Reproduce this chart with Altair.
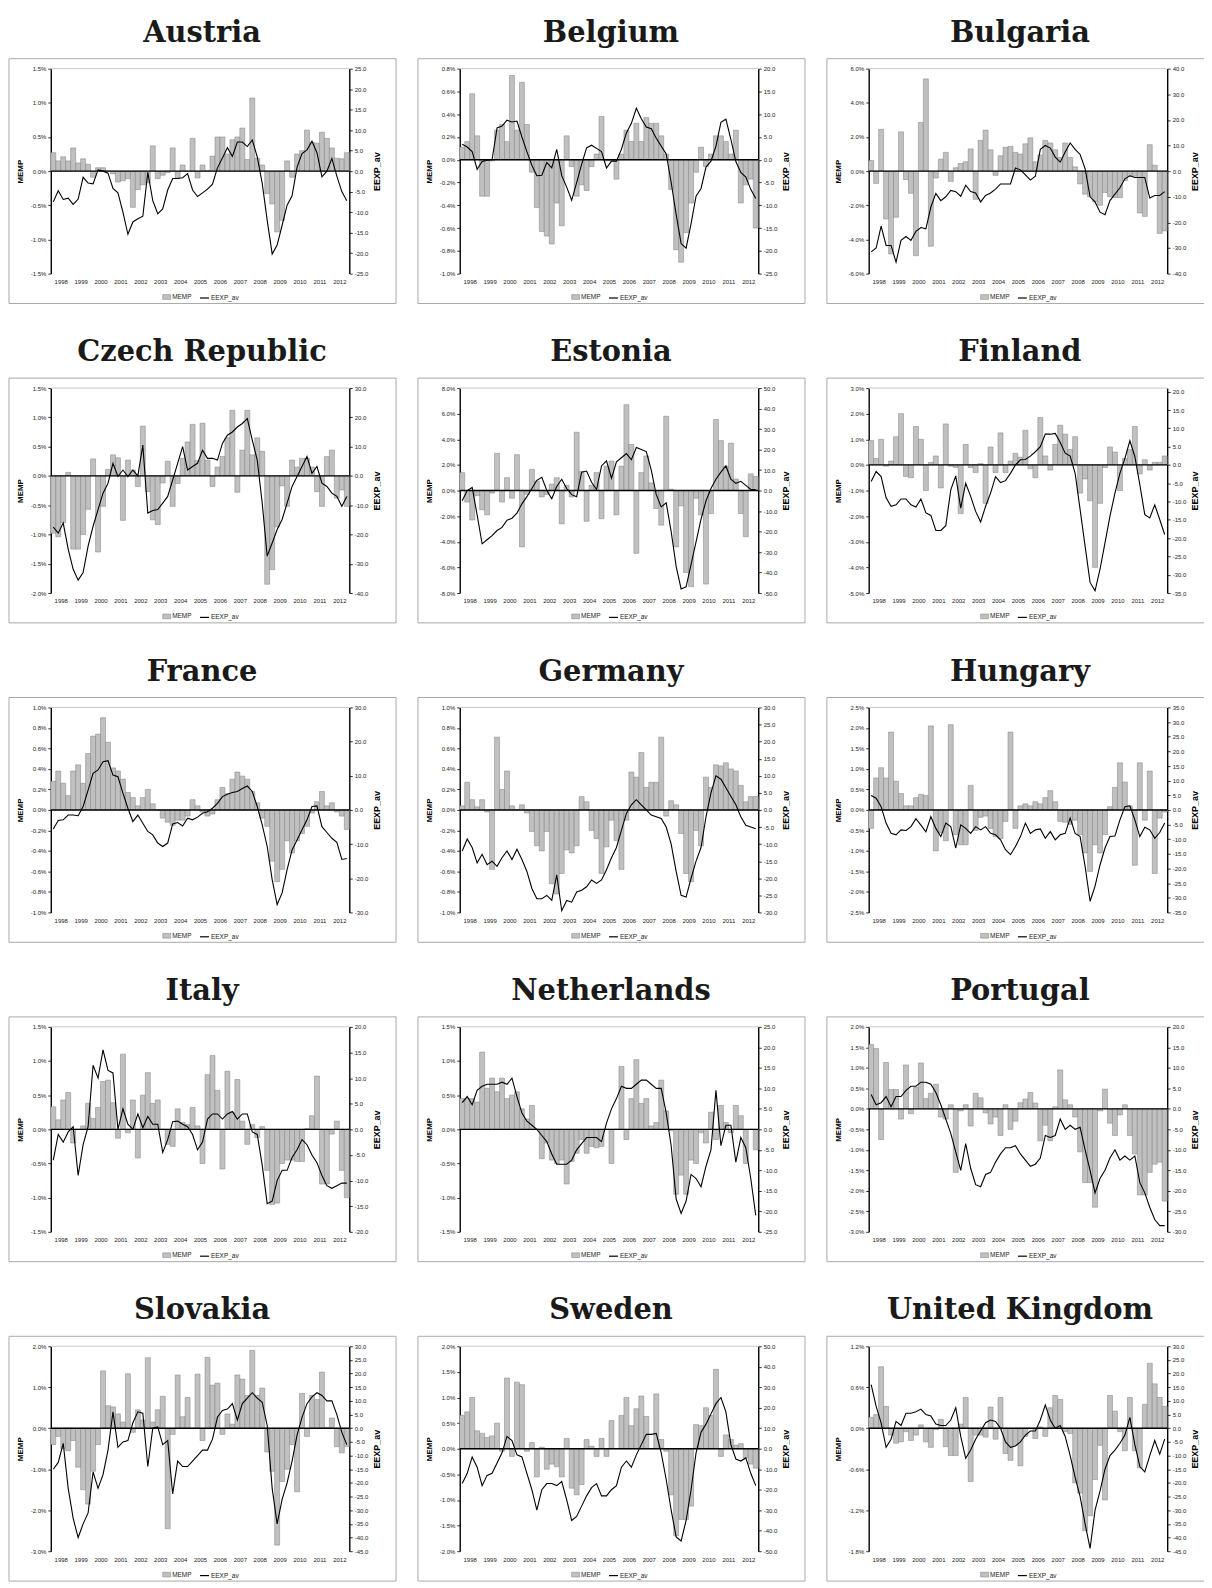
import altair as alt
import pandas as pd

YEARS = list(range(1998, 2013))
QUARTERS = [1, 2, 3, 4]
BAR_NAME = "MEMP"
LINE_NAME = "EEXP_av"

COUNTRIES = ["Austria", "Belgium", "Bulgaria", "Czech Republic", "Estonia", "Finland",
             "France", "Germany", "Hungary", "Italy", "Netherlands", "Portugal",
             "Slovakia", "Sweden", "United Kingdom"]

AUSTRIA_MEMP = [0.27,0.15,0.21,0.15, 0.34,0.12,0.18,0.10, -0.09,0.05,0.05,0.00, -0.04,-0.16,-0.14,-0.11,
                -0.53,-0.27,-0.20,-0.17, 0.37,-0.11,-0.06,-0.02, 0.34,-0.10,0.09,0.00, 0.48,-0.10,0.09,0.01,
                0.22,0.50,0.50,0.25, 0.46,0.50,0.63,0.17, 1.07,0.19,0.09,-0.33, -0.48,-0.89,-0.72,0.15,
                -0.09,0.25,0.30,0.60, 0.42,0.41,0.57,0.48, 0.34,0.19,0.18,0.27]
AUSTRIA_EEXP = [-7.5,-4.8,-6.9,-6.6, -8.1,-6.8,-1.5,-2.9, -3.1,0.3,0.0,-0.5, -4.2,-5.3,-10.0,-15.4,
                -12.4,-11.6,-11.0,-0.3, -7.2,-10.4,-9.2,-4.6, -1.8,-1.8,-1.6,-0.6, -4.6,-6.2,-5.3,-4.4,
                -3.2,0.8,3.2,5.7, 3.6,7.1,7.1,6.0, 7.6,3.5,-3.0,-12.0, -20.2,-18.0,-13.2,-8.3,
                -6.0,1.0,4.3,5.2, 7.3,4.5,-1.4,0.0, 3.1,-1.2,-5.0,-7.2]

BELGIUM_MEMP = [0.11,0.16,0.58,0.21, -0.32,-0.32,-0.01,0.26, 0.31,0.16,0.74,0.26, 0.68,0.31,-0.11,-0.42,
                -0.63,-0.67,-0.74,-0.38, -0.58,0.21,-0.06,-0.32, -0.22,-0.27,-0.06,0.05, 0.38,-0.01,-0.01,-0.17,
                0.05,0.26,0.16,0.32, 0.16,0.37,0.32,0.32, 0.21,0.05,-0.26,-0.79, -0.90,-0.64,-0.38,-0.11,
                0.11,-0.06,0.05,0.21, 0.21,0.16,0.05,0.26, -0.38,-0.22,-0.17,-0.60]
BELGIUM_EEXP = [3.4,2.8,1.8,-2.1, -0.4,-0.1,0.0,7.0, 7.4,8.7,8.3,8.5, 5.0,1.8,-1.2,-3.5,
                -3.4,-0.6,-1.8,2.3, -3.5,-6.0,-8.9,-5.0, -1.0,2.6,3.2,2.5, 1.8,-1.8,-0.3,-0.3,
                2.3,5.9,8.0,11.3, 9.0,7.2,6.8,4.7, 3.0,1.3,-5.0,-12.0, -18.4,-19.4,-14.0,-8.0,
                -6.3,-1.6,-0.3,3.0, 8.2,8.9,4.5,-0.4, -2.8,-3.8,-6.5,-8.5]

BULGARIA_MEMP = [0.62,-0.72,2.45,-2.8, -4.85,-2.7,2.3,-0.5, -1.3,-4.95,2.85,5.4, -4.4,-0.4,0.7,1.1,
                 -0.6,0.2,0.45,0.55, 1.3,-1.65,1.8,2.4, 1.25,-0.25,0.9,1.4, 1.45,1.1,1.0,1.6,
                 1.95,0.55,0.95,1.8, 1.65,1.25,0.8,1.65, 0.8,0.25,-0.75,-1.35, -1.5,-1.8,-2.0,-1.25,
                 -1.5,-1.55,-1.55,-0.55, -0.3,-0.3,-2.45,-2.65, 1.55,0.35,-3.65,-3.5]
BULGARIA_EEXP = [-31.5,-30,-21.5,-29, -29,-35.5,-27,-25.5, -27,-23.5,-22,-22.5, -14,-8.7,-11.5,-10,
                 -7.5,-8,-9.8,-5.5, -8,-8.5,-12,-9.5, -8.5,-7,-5,-5, -5,1.2,0.5,-1.5,
                 -3.5,-2,8.5,10, 9,5.5,3.5,7.5, 11,8.5,6.5,1, -10,-12,-16,-17,
                 -11.5,-9,-6.5,-3, -1.8,-2.5,-2.5,-2.5, -10.5,-9.5,-9.5,-8]

CZECH_MEMP = [-0.98,-1.04,-0.8,0.06, -1.25,-1.25,-1.0,-0.57, 0.29,-1.3,-0.52,0.11, 0.36,0.31,-0.76,0.27,
              0.1,-0.18,0.85,-0.27, -0.75,-0.83,-0.12,0.25, -0.52,-0.13,0.3,0.58, 0.88,0.26,0.9,0.27,
              -0.18,0.15,0.33,0.65, 1.12,-0.28,0.44,1.12, 0.36,0.65,0.42,-1.85, -1.6,-0.87,-0.17,-0.52,
              0.27,0.15,0.3,0.3, 0.15,-0.27,-0.52,0.33, 0.44,-0.38,-0.24,-0.52]
CZECH_EEXP = [-17.5,-19.5,-16.1,-25.0, -31.9,-35.6,-33.0,-24.0, -17.2,-11.5,-5.9,-2.5, 4.3,-0.2,2.0,-0.2,
              2.0,0.0,10.5,-12.7, -11.8,-11.5,-9.3,-7.0, -1.4,4.3,10.0,2.0, 3.2,4.3,8.8,6.0,
              6.0,5.4,11.1,13.9, 15.0,16.7,17.9,19.6, 12.2,5.4,-9.3,-27.4, -22.9,-18.3,-14.9,-9.3,
              -3.6,-0.2,3.2,6.6, 0.9,3.2,-2.5,-3.6, -5.9,-7.0,-10.4,-7.0]

ESTONIA_MEMP = [1.4,-0.9,-2.3,-0.4, -1.5,-1.9,-0.2,2.9, -0.9,1.0,-0.6,2.8, -4.4,-0.3,1.65,0.75,
                -0.5,-0.3,0.5,1.0, -2.6,0.4,-0.5,4.55, 1.5,-2.4,0.4,1.4, -2.2,1.9,2.3,-1.9,
                1.9,6.7,3.6,-4.9, 1.4,2.7,0.6,-1.4, -2.7,5.8,0.1,-4.4, -1.2,-6.4,-7.5,-0.6,
                -1.9,-7.3,-1.8,5.55, 3.9,1.9,3.7,0.9, -1.8,-3.6,1.3,1.1]
ESTONIA_EEXP = [-5,0,1.5,-12, -26,-24,-22,-19.5, -18,-14.5,-13.5,-11, -6.5,-3,1,5,
                6.5,0,-4,2, 5.5,1,-2,-3, 9,9.5,4,0.5, 12,14.5,6,14,
                16,18,15,21, 20,19,10,-2, -8,-6,-20,-37, -48,-47,-36,-25,
                -14,-5,1,5.5, 9,12,5.5,3.5, 4.5,2.5,0.5,0.5]

FINLAND_MEMP = [0.95,0.25,1.0,-0.05, 0.15,1.1,2.0,-0.45, -0.5,1.5,1.0,-1.0, 0.1,0.35,-0.9,1.6,
                -0.05,-0.1,-1.9,0.8, -0.1,-0.3,0.05,-1.5, 0.7,-0.3,1.25,-0.3, 0.15,0.45,0.3,1.35,
                -0.15,-0.5,1.85,0.35, -0.2,0.8,1.55,1.2, 0.6,1.1,-1.1,-0.55, -1.4,-4.0,-1.5,-0.1,
                0.7,0.5,-1.0,0.25, 0.6,1.5,-0.35,0.2, -0.2,0.1,0.1,0.35]
FINLAND_EEXP = [-4.5,-1.8,-3.2,-9, -11.3,-10.9,-9.3,-9.3, -10.9,-11.5,-9.3,-13.1, -13.8,-17.9,-17.9,-16.6,
                -6.8,-3.0,-11.8,-5, -8.6,-12.7,-15.6,-11.3, -7.7,-3.2,-4.8,-4.3, -2.3,0,1.4,1.5,
                2.4,3.6,5.0,8.4, 8.4,8.6,6.1,3.2, 2.4,-2.3,-12.2,-22.2, -32.1,-34.4,-28.5,-21.3,
                -14,-7.7,-2.3,1.8, 6.6,2.3,-5.4,-13.6, -14.5,-10.9,-14.9,-19]

FRANCE_MEMP = [0.28,0.38,0.26,0.14, 0.38,0.44,0.26,0.55, 0.72,0.74,0.9,0.66, 0.41,0.38,0.3,0.17,
               0.12,0.04,0.12,0.2, 0.06,0.0,-0.08,-0.12, -0.15,-0.1,-0.1,-0.06, 0.1,0.04,-0.02,-0.06,
               -0.04,0.1,0.22,0.16, 0.3,0.37,0.33,0.3, 0.18,0.07,-0.08,-0.16, -0.5,-0.7,-0.58,-0.3,
               -0.42,-0.3,-0.23,-0.16, -0.03,0.08,0.18,0.04, 0.07,-0.02,-0.06,-0.19]
FRANCE_EEXP = [-5.6,-3.1,-2.9,-1.5, -1.5,-1.7,1.0,5.8, 10.7,11.7,14.1,14.4, 10.2,9.7,4.9,0.5,
               -3.4,-1.5,-3.9,-6.3, -7.3,-9.7,-10.7,-9.7, -4.1,-3.7,-4.7,-2.4, -2.9,-2.1,-1.0,-0.5,
               0.5,1.9,3.9,4.6, 5.1,5.4,6.3,7.0, 5.4,1.0,-4.4,-10.7, -20.4,-27.7,-24.3,-17.5,
               -11.7,-8.8,-5.8,-2.9, 1.0,1.2,-4.9,-6.6, -8.3,-9.5,-14.5,-14.2]

GERMANY_MEMP = [0.04,0.27,0.1,0.03, 0.1,-0.02,-0.58,0.71, 0.2,0.38,0.04,0.0, 0.05,-0.03,-0.21,-0.35,
                -0.4,-0.21,-0.72,-0.82, -0.62,-0.39,-0.42,-0.35, 0.13,0.08,-0.2,-0.28, -0.62,-0.36,-0.1,-0.3,
                -0.58,-0.1,0.37,0.32, 0.56,0.22,0.27,0.27, 0.71,-0.06,0.09,0.05, -0.23,-0.62,-0.7,-0.2,
                -0.35,0.32,0.22,0.44, 0.43,0.46,0.4,0.38, 0.24,0.08,0.13,0.13]
GERMANY_EEXP = [-12,-8.5,-11,-15.5, -13,-16,-15,-16.5, -14,-12,-14.5,-11.5, -14.5,-18,-23,-26,
                -26,-25,-26.5,-19, -29.5,-26.5,-27,-24, -23.5,-22.5,-20.5,-21.5, -20.5,-17.5,-14,-11,
                -6,-1,1.5,3, 1.5,0,-1.5,-2, -2.5,-5,-10,-18, -25,-25.5,-20,-15,
                -11,-2,5,10, 9,6.5,4,1.5, -2,-4.5,-5,-5.5]

HUNGARY_MEMP = [-0.45,0.78,1.03,0.78, 1.9,0.7,0.4,0.1, 0.1,0.3,0.38,0.35, 2.05,-1.0,-0.55,-0.75,
                2.08,-0.6,-0.85,-0.85, 0.6,-0.5,-0.18,-0.15, -0.45,-0.65,-0.7,-0.28, 1.9,-0.45,0.1,0.15,
                0.1,0.2,0.15,0.3, 0.47,0.2,-0.28,-0.3, -0.35,-0.25,-0.6,-1.05, -1.5,-0.85,-1.05,-0.6,
                0.08,0.55,1.15,0.68, 0.1,-1.35,1.15,-0.25, 0.95,-1.55,-0.2,-0.05]
HUNGARY_EEXP = [4.9,4.0,1.1,-4.5, -8,-8.5,-6.8,-7, -5.7,-3,-5.2,-7.5, -2.3,-6.3,-9.1,-4.5,
                -5.7,-13,-5.1,-6.3, -8,-5.7,-6.8,-5.7, -8,-8.5,-10.2,-13.6, -15.3,-12.5,-9.1,-4.5,
                -8,-6.8,-6.5,-9.7, -7.4,-10.2,-8.5,-8, -2.8,-8,-9.1,-19.3, -31.2,-26,-18.8,-13,
                -9.1,-8.9,-3.4,1.1, 1.4,-3.4,-9.1,-5.9, -6.8,-9.7,-7.7,-4.5]

ITALY_MEMP = [0.33,0.14,0.43,0.54, -0.2,0.0,0.05,0.38, 0.16,0.32,0.7,0.72, 0.39,-0.13,1.1,-0.05,
              0.43,-0.42,0.5,0.83, 0.38,0.43,0.0,-0.22, -0.25,0.3,0.1,0.07, 0.32,0.05,-0.5,0.8,
              1.08,0.57,-0.58,0.85, 0.25,0.73,0.12,-0.22, 0.07,-0.12,0.04,-0.6, -1.1,-1.08,-0.5,-0.45,
              -0.45,-0.47,-0.47,0.01, 0.2,0.78,-0.8,-0.8, -0.07,0.12,-0.6,-1.0]
ITALY_EEXP = [-6,-1,-2.5,-0.5, 0.5,-9,-3,0.5, 12.5,10,15.5,11.5, 11,0,4,1,
              0,3,0.3,2.5, 1,1,-4.5,-2, 1.5,1.6,1,0.5, -1,-4,-2.5,2,
              3,3,2,3, 3.5,2,3,3, -0.5,-1,-7,-14.5, -14,-10,-8,-8,
              -5.5,-4,-2,-3, -5,-6.5,-9,-11, -11.5,-11,-10.5,-10.5]

NETHERLANDS_MEMP = [0.45,0.45,0.45,0.4, 1.13,0.6,0.75,0.55, 0.75,0.45,0.5,0.55, 0.3,0.15,0.35,0.0,
                    -0.43,-0.2,-0.45,-0.5, -0.45,-0.8,-0.47,-0.35, -0.15,-0.35,-0.25,-0.27, -0.25,0.0,-0.5,0.0,
                    0.92,-0.15,0.45,1.02, 0.38,0.45,0.05,0.1, 0.72,0.27,-0.02,-0.95, -0.67,-0.95,-0.45,-0.5,
                    -0.05,-0.2,0.25,-0.15, 0.35,0.1,-0.05,0.35, 0.2,-0.5,0.0,-0.3]
NETHERLANDS_EEXP = [6.5,8,6,9.5, 10.5,11,11,11, 11.5,11,12.5,8, 4,2,1,0,
                    -1.5,-3,-6,-8.5, -8.5,-8.5,-7.5,-5, -3.5,-2,-2,-2, -3,1.5,5,7.5,
                    10.5,10,10,11, 12,12,11,10, 10,4,-4,-17, -20.5,-17.5,-11,-12,
                    -14,-9,-5,9.5, -4,1,1,-8, -2,-4.5,-12,-21]

PORTUGAL_MEMP = [1.57,1.47,-0.75,1.13, 0.47,0.47,-0.25,1.07, -0.12,0.52,1.12,0.25, 0.38,0.6,-0.2,-0.25,
                 0.1,-1.55,-0.05,0.1, -0.42,0.38,0.27,-0.1, -0.37,-0.2,-0.65,0.1, -0.5,-0.3,0.15,0.24,
                 0.4,0.14,-0.78,-0.4, -0.78,0.05,0.95,0.22, 0.1,-0.2,-1.05,-1.8, -1.8,-2.4,-0.05,0.48,
                 -0.35,-0.65,-0.15,0.1, -0.65,-1.1,-2.1,-2.1, -1.55,-1.35,-1.3,-2.25]
PORTUGAL_EEXP = [3.5,1,1.5,3, 0.5,3,3,4.5, 5.5,5.5,6.5,6.5, 6,4,1,-2.5,
                 -6,-10.5,-15,-8.5, -14.5,-18.5,-19,-16, -15.5,-13,-11,-9.5, -9.5,-9,-11,-12.5,
                 -14,-13.5,-12,-6.5, -7,-6.5,-2.5,-5, -4,-5,-4.5,-10, -15,-20.5,-17,-15,
                 -12,-10,-12.5,-11.5, -12.5,-11.5,-18,-20.5, -24,-27,-28.5,-28.5]

SLOVAKIA_MEMP = [-0.4,-0.2,-0.5,-0.55, -0.3,-0.95,-1.5,-1.85, -1.05,-0.4,1.4,0.55, 0.52,0.35,0.15,1.33,
                 -0.1,0.45,0.2,1.72, 0.15,0.45,0.78,-2.45, -0.15,1.3,0.28,0.75, 0.0,1.32,-0.3,1.73,
                 1.05,1.1,-0.15,0.35, 0.1,1.3,1.2,0.8, 1.9,0.8,0.98,-0.58, -1.05,-2.85,-1.3,-1.0,
                 -0.4,-1.55,0.85,-0.2, 0.8,0.7,1.37,0.02, 0.25,-0.45,-0.6,-0.45]
SLOVAKIA_EEXP = [-15,-12.5,-5.5,-22, -33,-40,-35,-31, -16,-22,-17,-8, 6,-7,-5,-4.5,
                 2,6,5.5,-14, 0,0.5,-6,-4.5, -24,-12,-14,-14, -12,-10,-8,-8,
                 -4,4,6.5,7, 9,3,9,11, 13,11,9.5,1, -22,-35,-26,-20,
                 -12,-2.5,4,9, 11.5,13,12,10, 10,5,-1.5,-6]

SWEDEN_MEMP = [0.65,0.72,1.0,0.35, 0.3,0.22,0.25,0.5, -0.05,1.38,-0.15,1.3, 1.25,-0.05,0.12,-0.55,
               0.03,-0.4,-0.3,-0.35, -0.55,0.2,-0.77,-0.9, -0.7,0.18,0.05,-0.15, 0.2,-0.15,0.55,0.0,
               0.65,1.0,0.45,0.78, 1.03,0.63,0.0,1.07, 0.18,-0.05,-0.9,-1.7, -1.38,-1.38,-1.12,0.47,
               0.45,0.8,0.65,1.55, -0.15,0.27,0.18,0.07, 0.1,-0.18,-0.3,-0.38]
SWEDEN_EEXP = [-17,-12,-4,-9, -18,-13,-12,-7, -2,6,4,-3, -4,-12,-20,-30,
               -20,-17,-17,-18, -16,-25,-35,-33, -28,-23,-19,-17, -23,-23,-20,-18,
               -9,-6,-9,-3, 2,7,7,7.5, -2,-15,-30,-43, -45,-35,-20,-2,
               8,12,17,22, 25,18,2,-5, -6,-4.5,-12,-18]

UK_MEMP = [0.16,0.2,0.9,0.32, -0.1,-0.22,-0.2,-0.05, -0.18,-0.1,0.05,-0.2, -0.28,-0.02,0.13,-0.27,
           -0.4,-0.4,0.06,0.45, -0.78,-0.1,-0.1,-0.13, 0.31,-0.16,0.45,-0.37, -0.47,-0.25,-0.55,-0.12,
           0.0,-0.15,0.02,-0.12, 0.3,0.48,0.42,-0.05, -0.08,-0.8,-0.95,-1.5, -1.28,-0.75,-0.25,-1.05,
           0.48,0.25,-0.05,-0.33, 0.45,-0.33,-0.58,0.35, 0.95,0.65,0.45,0.32]
UK_EEXP = [16,8,2,-7, -4,2.5,1,5.5, 5.5,6,7,5, 4.5,1.5,1,1,
           3,7.5,-3,-11, -8,-4,-1,2, 3,2.5,0,-5, -7,-6.5,-5,-2.5,
           -1,-1,3,8.5, 3,0,1,-3, -10,-18,-25,-35, -44,-30,-23,-15,
           -10,-8,-5.5,-2.5, 4,-6,-14,-16, -10,-4.5,-9.5,-4]

MEMP = dict(zip(COUNTRIES, [AUSTRIA_MEMP, BELGIUM_MEMP, BULGARIA_MEMP, CZECH_MEMP, ESTONIA_MEMP,
                            FINLAND_MEMP, FRANCE_MEMP, GERMANY_MEMP, HUNGARY_MEMP, ITALY_MEMP,
                            NETHERLANDS_MEMP, PORTUGAL_MEMP, SLOVAKIA_MEMP, SWEDEN_MEMP, UK_MEMP]))
EEXP = dict(zip(COUNTRIES, [AUSTRIA_EEXP, BELGIUM_EEXP, BULGARIA_EEXP, CZECH_EEXP, ESTONIA_EEXP,
                            FINLAND_EEXP, FRANCE_EEXP, GERMANY_EEXP, HUNGARY_EEXP, ITALY_EEXP,
                            NETHERLANDS_EEXP, PORTUGAL_EEXP, SLOVAKIA_EEXP, SWEDEN_EEXP, UK_EEXP]))

# axis ranges: (min, max, step); right axis also carries the domain top
LEFT_AXIS = {
    "Austria": (-1.5, 1.5, 0.5), "Belgium": (-1.0, 0.8, 0.2), "Bulgaria": (-6, 6, 2),
    "Czech Republic": (-2.0, 1.5, 0.5), "Estonia": (-8, 8, 2), "Finland": (-5, 3, 1),
    "France": (-1.0, 1.0, 0.2), "Germany": (-1.0, 1.0, 0.2), "Hungary": (-2.5, 2.5, 0.5),
    "Italy": (-1.5, 1.5, 0.5), "Netherlands": (-1.5, 1.5, 0.5), "Portugal": (-3.0, 2.0, 0.5),
    "Slovakia": (-3, 2, 1), "Sweden": (-2.0, 2.0, 0.5), "United Kingdom": (-1.8, 1.2, 0.6),
}
RIGHT_AXIS = {
    "Austria": (-25, 25, 5, 25), "Belgium": (-25, 20, 5, 20), "Bulgaria": (-40, 40, 10, 40),
    "Czech Republic": (-40, 30, 10, 30), "Estonia": (-50, 50, 10, 50), "Finland": (-35, 20, 5, 21),
    "France": (-30, 30, 10, 30), "Germany": (-30, 30, 5, 30), "Hungary": (-35, 35, 5, 35),
    "Italy": (-20, 20, 5, 20), "Netherlands": (-25, 25, 5, 25), "Portugal": (-30, 20, 5, 20),
    "Slovakia": (-45, 30, 5, 30), "Sweden": (-50, 50, 10, 50), "United Kingdom": (-45, 30, 5, 30),
}

W, H = 300, 206
LABEL_FONT = "Liberation Sans"


def ticks(lo, hi, step):
    n = int(round((hi - lo) / step))
    return [round(lo + k * step, 4) + 0.0 for k in range(n + 1)]


def panel(name):
    memp, eexp = MEMP[name], EEXP[name]
    assert len(memp) == 60 and len(eexp) == 60, (name, len(memp), len(eexp))
    t = [y + (q - 1) / 4 for y in YEARS for q in QUARTERS]
    df = pd.DataFrame({
        "t": t,
        "t2": [v + 0.25 for v in t],
        "tm": [v + 0.125 for v in t],
        "memp": memp,
        "eexp": eexp,
        "s1": BAR_NAME,
        "s2": LINE_NAME,
    })
    one = pd.DataFrame({"k": [0]})
    llo, lhi, lst = LEFT_AXIS[name]
    rlo, rhi, rst, rtop = RIGHT_AXIS[name]

    xs = alt.Scale(domain=[YEARS[0], YEARS[-1] + 1], nice=False, zero=False)
    xa = alt.Axis(values=[y + 0.5 for y in YEARS], labelExpr="format(floor(datum.value), 'd')",
                  ticks=False, domain=False, grid=False, labelFontSize=6, labelPadding=5,
                  labelColor="#222222", labelOverlap=False, labelFlush=False)

    left_axis = alt.Axis(orient="left", values=ticks(llo, lhi, lst),
                         labelExpr="(datum.value < 0 ? '-' : '') + format(abs(datum.value), '.1f') + '%'",
                         grid=False, domainColor="#000000", domainWidth=1.4, tickColor="#000000",
                         tickSize=3, tickWidth=0.8, labelFontSize=6, labelColor="#222222",
                         labelPadding=2, labelOverlap=False,
                         titleFontSize=8, titleFontWeight="bold",
                         titleColor="#000000", titlePadding=6)
    right_axis = alt.Axis(orient="right", values=ticks(rlo, rhi, rst),
                          labelExpr="(datum.value < 0 ? '-' : '') + format(abs(datum.value), '.1f')",
                          grid=False, domainColor="#000000", domainWidth=1.4, tickColor="#000000",
                          tickSize=3, tickWidth=0.8, labelFontSize=6, labelColor="#222222",
                          labelPadding=2, labelOverlap=False, titleFontSize=9, titleFontWeight="bold",
                          titleColor="#000000", titlePadding=5, titleAngle=270,
                          titleBaseline="top")

    heading = alt.Chart(one).mark_text(
        text=name, font="DejaVu Serif", fontSize=29, fontWeight="bold", color="#1a1a1a",
        align="center", baseline="alphabetic").encode(x=alt.value(W / 2 + 2), y=alt.value(-27))
    frame = alt.Chart(one).mark_rect(fill="transparent", stroke="#a8a8a8", strokeWidth=1).encode(
        x=alt.value(-42), x2=alt.value(W + 47), y=alt.value(-10), y2=alt.value(H + 30))
    top_edge = alt.Chart(one).mark_rule(color="#c8c8c8", strokeWidth=1).encode(
        x=alt.value(0), x2=alt.value(W), y=alt.value(0))

    bars = alt.Chart(df).mark_bar(stroke="#808080", strokeWidth=0.5).encode(
        x=alt.X("t:Q", scale=xs, axis=xa, title=None),
        x2="t2:Q",
        y=alt.Y("memp:Q", scale=alt.Scale(domain=[llo, lhi], nice=False), axis=left_axis, title="MEMP"),
        y2=alt.datum(0),
        fill=alt.Fill("s1:N", scale=alt.Scale(domain=[BAR_NAME], range=["#c0c0c0"]), title=None,
                      legend=alt.Legend(orient="none", legendX=112, legendY=H + 19,
                                        symbolType="M-1,-0.6H1V0.6H-1Z", symbolSize=64,
                                        symbolStrokeColor="#808080", symbolStrokeWidth=0.5,
                                        labelFontSize=6.5, labelFont=LABEL_FONT, labelColor="#222222",
                                        labelOffset=1, padding=0)),
    )
    # zero line of the MEMP scale, drawn on its own copy of that scale
    zero = alt.Chart(one).mark_rule(color="#000000", strokeWidth=1.4).encode(
        x=alt.value(0), x2=alt.value(W),
        y=alt.YDatum(0, scale=alt.Scale(domain=[llo, lhi], nice=False), axis=None))

    line = alt.Chart(df).mark_line(strokeWidth=1.1).encode(
        x=alt.X("tm:Q", scale=xs, axis=xa, title=None),
        y=alt.Y("eexp:Q", scale=alt.Scale(domain=[rlo, rtop], nice=False, zero=False),
                axis=right_axis, title=LINE_NAME),
        stroke=alt.Stroke("s2:N", scale=alt.Scale(domain=[LINE_NAME], range=["#000000"]), title=None,
                          legend=alt.Legend(orient="none", legendX=149, legendY=H + 19,
                                            symbolType="stroke", symbolSize=81, symbolStrokeWidth=1.2,
                                            labelFontSize=6.5, labelFont=LABEL_FONT,
                                            labelColor="#222222", labelOffset=1, padding=0)),
    )

    return alt.layer(heading, frame, top_edge, bars, zero, line).resolve_scale(
        y="independent").properties(width=W, height=H)


rows = []
for r in range(5):
    row = alt.hconcat(*[panel(c) for c in COUNTRIES[3 * r: 3 * r + 3]], spacing=20)
    row = row.resolve_scale(fill="independent", stroke="independent")
    rows.append(row)

chart = alt.vconcat(*rows, spacing=34).resolve_scale(fill="independent", stroke="independent")
# the right-hand column's frame runs off the page edge, as in the original page layout
chart = chart.properties(padding={"left": 0, "top": 7, "right": -11, "bottom": 0}, background="white")
chart = chart.configure_view(strokeWidth=0).configure_axis(
    labelFont=LABEL_FONT, titleFont=LABEL_FONT).configure_legend(labelFont=LABEL_FONT)

chart.save("out.html", embed_options={"renderer": "svg", "actions": False})
